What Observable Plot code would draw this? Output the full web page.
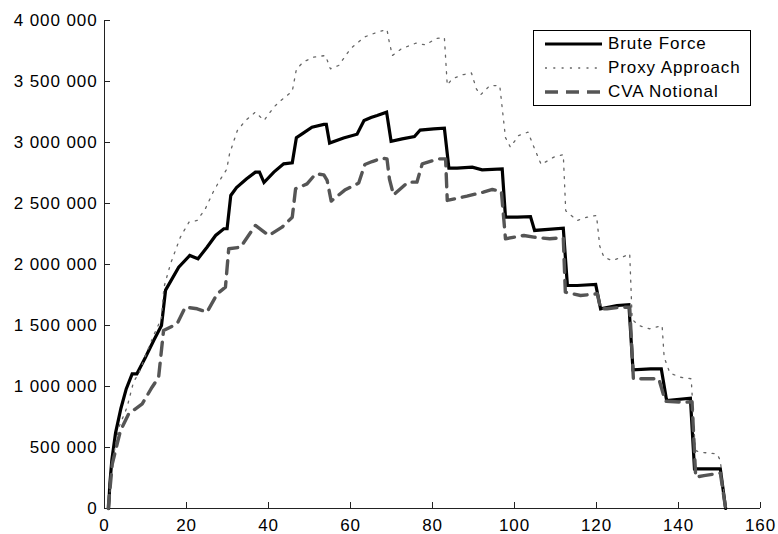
<!DOCTYPE html>
<html>
<head>
<meta charset="utf-8">
<script src="https://cdn.jsdelivr.net/npm/d3@7"></script>
<script src="https://cdn.jsdelivr.net/npm/@observablehq/plot@0.6"></script>
<style>
  body { margin: 0; background: #fff; }
  #chart { position: relative; width: 778px; height: 534px; font-family: "Liberation Sans", Arial, sans-serif; }
  #chart svg text { letter-spacing: 0.9px; }
  .legend { position: absolute; left: 533px; top: 30px; width: 216px; height: 74px; border: 1px solid #000; background: #fff; }
  .legend .row { position: absolute; left: 0; height: 24px; display: flex; align-items: center; font-size: 17px; letter-spacing: 0.9px; color: #000; white-space: nowrap; }
  .legend .row svg { margin-left: 11px; margin-right: 6px; }
</style>
</head>
<body>
<div id="chart"></div>
<script>
// Axis ticks
const xTicks = [0, 20, 40, 60, 80, 100, 120, 140, 160];
const yTicks = [0, 500000, 1000000, 1500000, 2000000, 2500000, 3000000, 3500000, 4000000];

// Series names (legend order)
const seriesNames = ["Brute Force", "Proxy Approach", "CVA Notional"];

// Brute Force exposure profile
const bruteX = [1, 1.3, 1.8, 2.7, 4, 5.3, 6.75, 7.9, 10, 12, 13.9, 14.9, 18.1, 20.8, 22.8, 25, 27.1, 29.1, 29.9,
  30.8, 32.2, 34.6, 36.8, 37.8, 38.9, 41.3, 43.7, 45.8, 46.8, 48.2, 50.6, 53.5, 54.1, 54.9, 58.3, 61.6,
  63.3, 65, 66.5, 68.8, 69.9, 72.6, 75.6, 77, 80.3, 82.9, 84, 86, 89.7, 92.1, 97, 97.8, 100.7, 103.9,
  104.9, 111.9, 112.9, 115.3, 119.8, 121, 125, 127.9, 128.9, 133.2, 135.8, 137.1, 142.9, 143.9, 150.2, 151.5];
const bruteY = [0, 200000, 400000, 620000, 820000, 980000, 1104000, 1104000, 1240000, 1377000, 1500000, 1790000,
  1978000, 2074000, 2047000, 2142000, 2238000, 2293000, 2293000, 2566000, 2630000, 2700000, 2757000, 2757000,
  2672000, 2757000, 2825000, 2834000, 3040000, 3071000, 3126000, 3148000, 3148000, 2995000, 3037000, 3068000,
  3180000, 3205000, 3221000, 3249000, 3010000, 3030000, 3048000, 3102000, 3112000, 3117000, 2790000, 2790000,
  2798000, 2776000, 2784000, 2388000, 2388000, 2393000, 2279000, 2298000, 1828000, 1828000, 1836000, 1637000,
  1664000, 1670000, 1137000, 1145000, 1145000, 885000, 904000, 325000, 325000, 0];

// Proxy Approach exposure profile
const proxyX = [1, 1.9, 3.5, 5.5, 7.1, 8.4, 10.2, 12, 13.9, 14.5, 16.1, 18.5, 20.6, 22.6, 24.6, 26.7, 28.3, 29.8,
  30.5, 32.4, 34.4, 36.8, 38.9, 41.3, 43, 45.8, 46.8, 48.5, 51, 53.9, 55.1, 57.1, 60, 63.3, 66.5, 68.9, 69.3,
  70.2, 72.4, 76, 78.3, 80.9, 82.9, 83.6, 84.8, 87.5, 89.5, 90.7, 91.7, 94, 96.4, 97.8, 99, 101, 103.3, 104.7,
  106.5, 109.6, 111.9, 112.5, 115.3, 117.7, 120, 120.8, 121.8, 123.8, 126.3, 128.1, 128.7, 130.3, 133, 136,
  136.5, 137.9, 140.5, 143.1, 144.1, 145.4, 149.4, 150.2, 151.5];
const proxyY = [0, 380000, 666000, 830000, 1040000, 1110000, 1270000, 1420000, 1560000, 1814000, 2006000, 2224000,
  2347000, 2361000, 2457000, 2607000, 2700000, 2780000, 2907000, 3098000, 3180000, 3249000, 3180000, 3290000,
  3344000, 3420000, 3600000, 3660000, 3700000, 3713000, 3604000, 3631000, 3768000, 3863000, 3904000, 3927000,
  3850000, 3713000, 3768000, 3815000, 3800000, 3852000, 3860000, 3470000, 3522000, 3556000, 3570000, 3440000,
  3390000, 3467000, 3467000, 3040000, 2962000, 3057000, 3085000, 2965000, 2820000, 2880000, 2900000, 2440000,
  2361000, 2388000, 2402000, 2150000, 2060000, 2033000, 2060000, 2088000, 1550000, 1500000, 1473000, 1500000,
  1240000, 1110000, 1076000, 1063000, 475000, 461000, 448000, 393000, 0];

// CVA Notional exposure profile
const cvaX = [0.9, 1.9, 3.9, 5.9, 9.2, 11.6, 13.2, 14.4, 17.7, 19.7, 22.6, 25, 27.5, 29.5, 30.3, 33.2, 36.8, 40.1,
  43.3, 45.8, 46.6, 49.4, 51.5, 53.5, 54.3, 55.3, 58.6, 62, 63.5, 65.3, 67.7, 68.9, 69.5, 70.5, 74, 76.2, 77.5,
  81.5, 83.2, 83.6, 88.4, 92.4, 94.6, 96.8, 97.8, 102.3, 104.7, 108.6, 111.9, 112.4, 116.1, 120.2, 121, 122.6,
  125.9, 128.1, 129, 135.2, 136.8, 141.3, 143.3, 144.2, 146.2, 150.2, 151.5];
const cvaY = [0, 366000, 639000, 776000, 858000, 994000, 1076000, 1459000, 1514000, 1650000, 1637000, 1609000,
  1760000, 1814000, 2129000, 2142000, 2320000, 2238000, 2306000, 2388000, 2620000, 2661000, 2743000, 2735000,
  2689000, 2520000, 2610000, 2668000, 2820000, 2844000, 2871000, 2866000, 2700000, 2570000, 2675000, 2675000,
  2825000, 2866000, 2866000, 2525000, 2560000, 2593000, 2615000, 2600000, 2211000, 2238000, 2224000, 2211000,
  2220000, 1773000, 1746000, 1760000, 1637000, 1637000, 1650000, 1650000, 1063000, 1063000, 880000, 871000,
  875000, 257000, 270000, 290000, 0];

const toRows = (xs, ys) => xs.map((x, i) => ({x, y: ys[i]}));
const brute = toRows(bruteX, bruteY);
const proxy = toRows(proxyX, proxyY);
const cva = toRows(cvaX, cvaY);

const spaced = d3.format(",");
const fmtY = (d) => spaced(d).replace(/,/g, " ");
const blank = () => "";

const styles = [
  {stroke: "#000", strokeWidth: 3.2, strokeDasharray: null},
  {stroke: "#666", strokeWidth: 1.3, strokeDasharray: "2,6.3"},
  {stroke: "#555", strokeWidth: 3.4, strokeDasharray: "13,8"}
];

const axisColor = "#222";

const chart = Plot.plot({
  width: 778,
  height: 534,
  marginLeft: 104,
  marginRight: 18,
  marginTop: 20,
  marginBottom: 26,
  style: {fontFamily: "Liberation Sans, Arial, sans-serif", fontSize: "17px", color: "#000", background: "#fff"},
  x: {domain: [0, 160]},
  y: {domain: [0, 4000000]},
  marks: [
    Plot.ruleX([0], {stroke: axisColor, strokeWidth: 1}),
    Plot.ruleY([0], {stroke: axisColor, strokeWidth: 1}),
    // labels
    Plot.axisY(yTicks, {tickSize: 0, tickPadding: 7, tickFormat: fmtY, fontSize: 17, label: null, fill: "#000"}),
    Plot.axisX(xTicks, {tickSize: 0, tickPadding: 10, tickFormat: (d) => String(d), fontSize: 17, label: null, fill: "#000"}),
    // inward tick marks
    Plot.axisY(yTicks, {tickSize: 6, dx: 6, tickFormat: blank, label: null, stroke: axisColor}),
    Plot.axisX(xTicks, {tickSize: 6, dy: -6, tickFormat: blank, label: null, stroke: axisColor}),
    Plot.line(brute, {x: "x", y: "y", ...styles[0], strokeLinejoin: "miter", strokeMiterlimit: 2}),
    Plot.line(proxy, {x: "x", y: "y", ...styles[1]}),
    Plot.line(cva, {x: "x", y: "y", ...styles[2], strokeLinejoin: "round"})
  ]
});

const host = document.getElementById("chart");
host.appendChild(chart);

// Legend box inside the upper-right corner of the plot
const legend = document.createElement("div");
legend.className = "legend";
seriesNames.forEach((name, i) => {
  const row = document.createElement("div");
  row.className = "row";
  row.style.top = (1 + i * 24) + "px";
  const s = styles[i];
  row.innerHTML =
    `<svg width="57" height="10"><line x1="0" y1="5" x2="57" y2="5" stroke="${s.stroke}" stroke-width="${s.strokeWidth}"` +
    (s.strokeDasharray ? ` stroke-dasharray="${s.strokeDasharray}"` : "") + `/></svg><span>${name}</span>`;
  legend.appendChild(row);
});
host.appendChild(legend);
</script>
</body>
</html>
